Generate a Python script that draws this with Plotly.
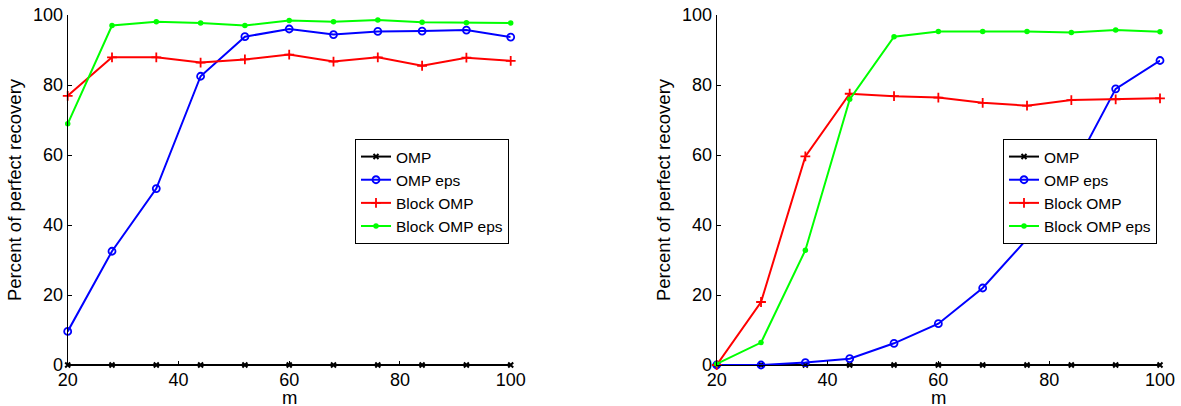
import plotly.graph_objects as go

m = [20, 28, 36, 44, 52, 60, 68, 76, 84, 92, 100]

# Left panel
left_omp = [0, 0, 0, 0, 0, 0, 0, 0, 0, 0, 0]
left_omp_eps = [9.6, 32.5, 50.4, 82.5, 93.8, 96.0, 94.4, 95.3, 95.4, 95.7, 93.7]
left_block = [76.9, 87.9, 87.9, 86.4, 87.3, 88.7, 86.7, 87.9, 85.5, 87.8, 86.9]
left_block_eps = [68.9, 97.0, 98.1, 97.7, 97.0, 98.4, 98.1, 98.6, 97.9, 97.8, 97.7]

# Right panel
right_omp = [0, 0, 0, 0, 0, 0, 0, 0, 0, 0, 0]
right_omp_eps = [0, 0, 0.7, 1.8, 6.2, 11.8, 22.0, 36.0, 55.0, 78.9, 87.0]
right_block = [0, 18.0, 59.6, 77.5, 76.8, 76.4, 74.9, 74.1, 75.7, 75.9, 76.2]
right_block_eps = [0.3, 6.4, 32.8, 75.9, 93.8, 95.3, 95.3, 95.3, 95.0, 95.7, 95.2]

x_title = "m"
y_title = "Percent of perfect recovery"
names = ["OMP", "OMP eps", "Block OMP", "Block OMP eps"]
colors = ["#000000", "#0000ff", "#ff0000", "#00ff00"]
markers = [
    dict(symbol="x-thin", size=5, line=dict(width=2, color="#000000")),
    dict(symbol="circle-open", size=7, line=dict(width=1.8, color="#0000ff")),
    dict(symbol="cross-thin", size=7, line=dict(width=1.8, color="#ff0000")),
    dict(symbol="circle", size=5.5, color="#00ff00", line=dict(width=0)),
]

FONT = "Liberation Sans, Arial, Helvetica, sans-serif"
W, H = 1181, 406
TOP, BOTTOM = 15, 365  # pixel rows of y=100 and y=0

fig = go.Figure()

panels = [
    ("x", "y", "legend", [left_omp, left_omp_eps, left_block, left_block_eps]),
    ("x2", "y2", "legend2", [right_omp, right_omp_eps, right_block, right_block_eps]),
]
for xa, ya, lg, series in panels:
    for name, col, mk, vals in zip(names, colors, markers, series):
        mk = dict(mk)
        if "color" not in mk:
            mk["color"] = col
        fig.add_trace(go.Scatter(
            x=m, y=vals, name=name, mode="lines+markers",
            line=dict(color=col, width=2), marker=mk,
            xaxis=xa, yaxis=ya, legend=lg, cliponaxis=False,
        ))

def xpx(p):
    return p / W

def ypx(p):
    return (BOTTOM - p) / (BOTTOM - TOP)

axis_common = dict(
    showline=True, linecolor="black", linewidth=1, mirror=False,
    showgrid=False, zeroline=False, ticks="inside", ticklen=4,
    tickcolor="black", tickwidth=1,
    tickfont=dict(family=FONT, size=18, color="black"),
    automargin=False,
)

xcommon = dict(axis_common, range=[20, 100], tickvals=[20, 40, 60, 80, 100],
               ticklabelstandoff=-2)
ycommon = dict(axis_common, range=[0, 100], tickvals=[0, 20, 40, 60, 80, 100],
               title=dict(text=y_title, font=dict(family=FONT, size=18.5, color="black"), standoff=6))

legend_common = dict(
    bgcolor="white", bordercolor="black", borderwidth=1,
    font=dict(family=FONT, size=15.5, color="black"),
    xanchor="left", yanchor="top", tracegroupgap=0, itemwidth=30,
)

fig.update_layout(
    width=W, height=H,
    margin=dict(l=0, r=0, t=TOP, b=H - BOTTOM, autoexpand=False),
    paper_bgcolor="white", plot_bgcolor="white",
    xaxis=dict(xcommon, domain=[xpx(67.7), xpx(510.7)], anchor="y"),
    yaxis=dict(ycommon, domain=[0, 1], anchor="x"),
    xaxis2=dict(xcommon, domain=[xpx(716.7), xpx(1160)], anchor="y2"),
    yaxis2=dict(ycommon, domain=[0, 1], anchor="x2"),
    legend=dict(legend_common, x=xpx(355), y=ypx(139)),
    legend2=dict(legend_common, x=xpx(1003), y=ypx(139)),
    showlegend=True,
)

for xr in ["x", "x2"]:
    fig.add_annotation(
        text=x_title, xref=xr, x=60, yref="paper", y=ypx(397),
        xanchor="center", yanchor="middle", showarrow=False,
        font=dict(family=FONT, size=18.5, color="black"),
    )

fig.write_html(
    "out.html",
    config={"displayModeBar": False},
    post_script="document.body.style.margin='0';document.body.style.overflow='hidden';",
)
